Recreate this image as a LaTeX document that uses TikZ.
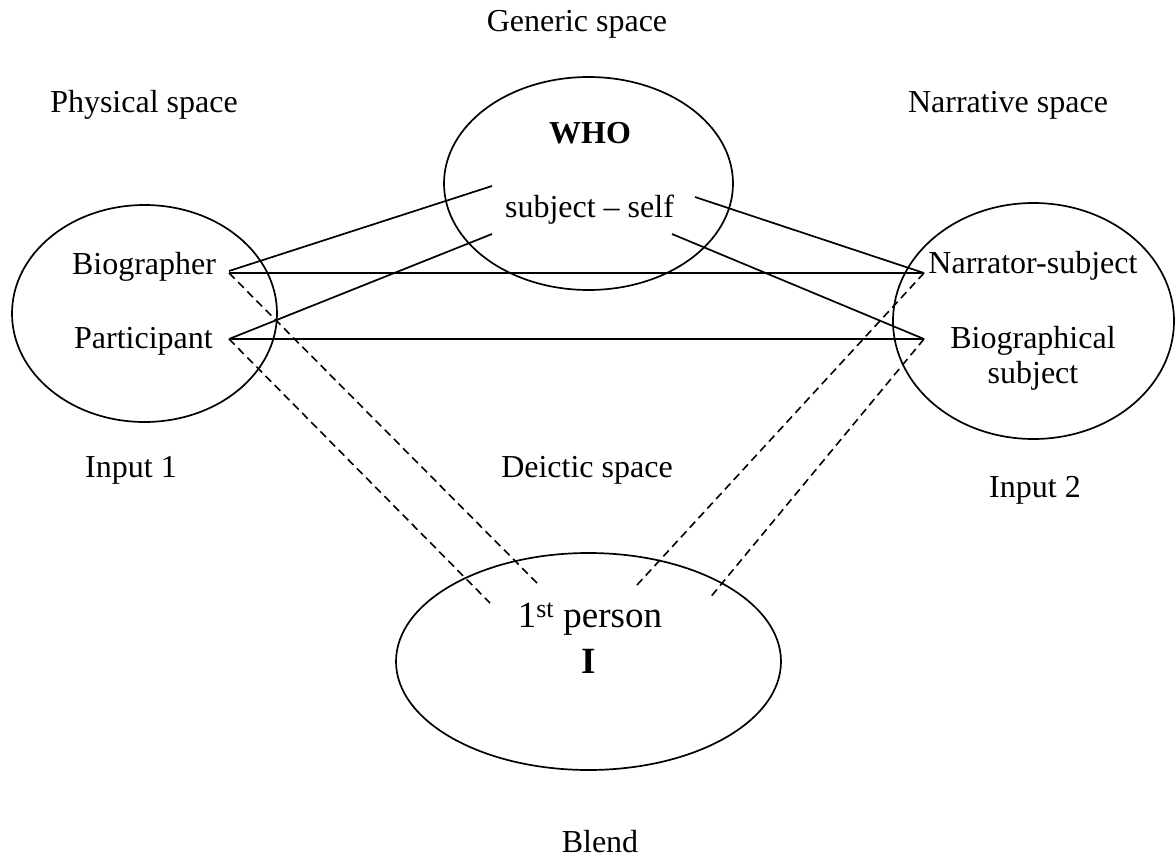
\documentclass[tikz,border=0pt]{standalone}
\usepackage{fontspec}
\setmainfont{Liberation Serif}
\usetikzlibrary{shapes.geometric}
\begin{document}
\begin{tikzpicture}[x=1pt,y=-1pt,
  space/.style={draw, ellipse, line width=1.7pt, inner sep=0pt},
  lbl/.style={anchor=base, inner sep=0pt, font=\fontsize{32}{35}\selectfont},
  big/.style={anchor=base, inner sep=0pt, font=\fontsize{37}{42}\selectfont},
  link/.style={line width=1.7pt},
  dlink/.style={line width=1.6pt, dash pattern=on 8pt off 5pt}]
\useasboundingbox (0,0) rectangle (1176,859);

% the four mental spaces
\node[space, minimum width=265pt, minimum height=217pt] (input1) at (144.5,313.5) {};
\node[space, minimum width=289pt, minimum height=213pt] (generic) at (588.5,183.5) {};
\node[space, minimum width=281pt, minimum height=236pt] (input2) at (1033.5,321) {};
\node[space, minimum width=385pt, minimum height=217pt] (blend) at (588.5,661.5) {};

% space titles
\node[lbl] (tGeneric) at (577,32) {Generic space};
\node[lbl] (tPhys) at (144,112) {Physical space};
\node[lbl] (tNarr) at (1008,112) {Narrative space};
\node[lbl] (tIn1) at (131,477) {Input 1};
\node[lbl] (tDeic) at (587,477) {Deictic space};
\node[lbl] (tIn2) at (1035,497) {Input 2};
\node[lbl] (tBlend) at (600,852) {Blend};

% contents
\node[lbl, font=\fontsize{32}{35}\selectfont\bfseries] (who) at (590,143) {WHO};
\node[lbl] (subj) at (589.5,217) {subject -- self};
\node[lbl] (bio) at (144,274) {Biographer};
\node[lbl] (part) at (143.5,348) {Participant};
\node[lbl] (narr) at (1033,273) {Narrator-subject};
\node[anchor=north, inner sep=0pt, align=center, font=\fontsize{32}{35}\selectfont] (bsub) at (1033,326) {Biographical\\subject};
\node[big] (first) at (590,627) {1\textsuperscript{st} person};
\node[big, font=\fontsize{37}{42}\selectfont\bfseries] (eye) at (589,673) {I};

% connector ends
\coordinate (bioR) at (229,271);
\coordinate (partR) at (229,339);
\coordinate (narrL) at (924,273);
\coordinate (bsubL) at (924,339);
\coordinate (subjL1) at (492,186);
\coordinate (subjL2) at (492,234);
\coordinate (subjR1) at (695,197);
\coordinate (subjR2) at (672,234);
\coordinate (blendA) at (537,583);
\coordinate (blendB) at (490,603);
\coordinate (blendC) at (637,585);
\coordinate (blendD) at (709,599);

% cross-space mappings
\draw[link] (bioR) -- (subjL1);
\draw[link] (partR) -- (subjL2);
\draw[link] (subjR1) -- (narrL);
\draw[link] (subjR2) -- (bsubL);
\draw[link] (bioR |- narrL) -- (narrL);
\draw[link] (partR) -- (bsubL);

% projections into the blend
\draw[dlink] (bioR |- narrL) -- (blendA);
\draw[dlink] (partR) -- (blendB);
\draw[dlink] (narrL) -- (blendC);
\draw[dlink] (bsubL) -- (blendD);
\end{tikzpicture}
\end{document}
